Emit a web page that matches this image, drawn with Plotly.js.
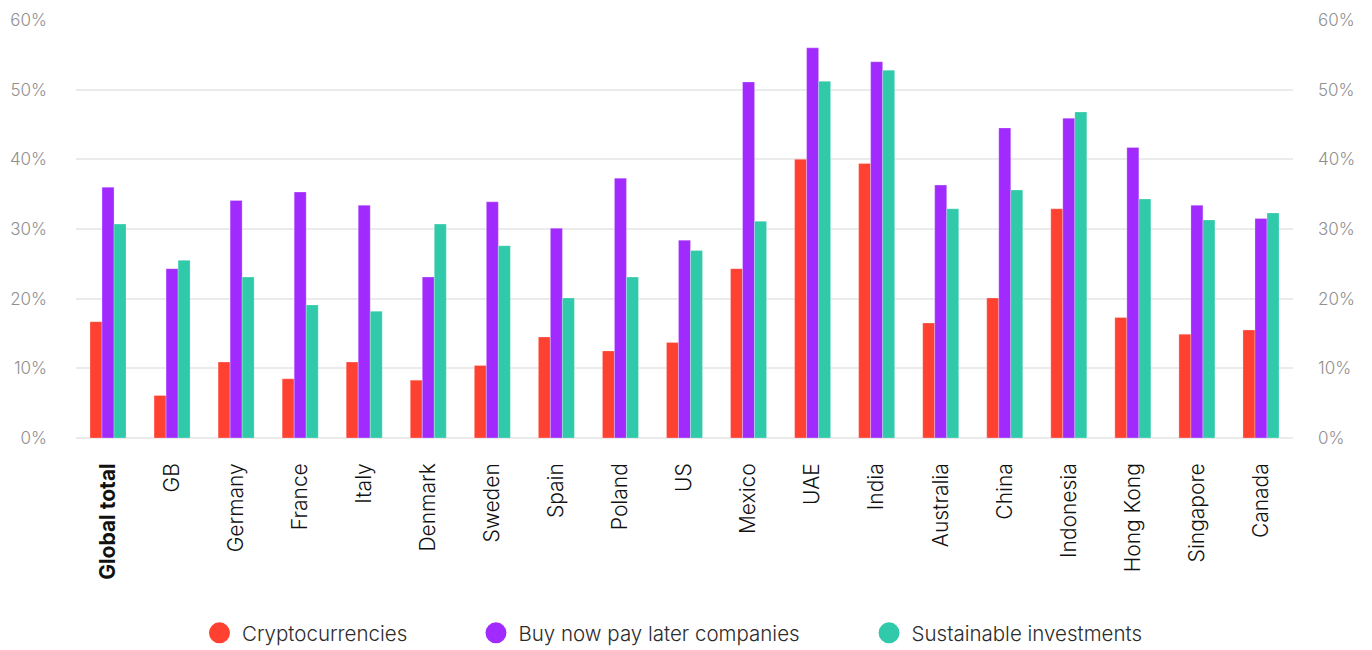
<!DOCTYPE html>
<html>
<head>
<meta charset="utf-8">
<script src="https://cdn.plot.ly/plotly-3.0.1.min.js"></script>
<style>
  html, body { margin: 0; padding: 0; background: #ffffff; }
  #chart { width: 1372px; height: 650px; }
</style>
</head>
<body>
<div id="chart"></div>
<script>
const categories = ["Global total", "GB", "Germany", "France", "Italy", "Denmark", "Sweden", "Spain", "Poland", "US", "Mexico", "UAE", "India", "Australia", "China", "Indonesia", "Hong Kong", "Singapore", "Canada"];
const tickLabels = ["<b>Global total</b>", "GB", "Germany", "France", "Italy", "Denmark", "Sweden", "Spain", "Poland", "US", "Mexico", "UAE", "India", "Australia", "China", "Indonesia", "Hong Kong", "Singapore", "Canada"];
const seriesNames = ["Cryptocurrencies", "Buy now pay later companies", "Sustainable investments"];
const crypto = [16.7, 6.1, 10.9, 8.5, 10.9, 8.3, 10.4, 14.5, 12.5, 13.7, 24.3, 40.0, 39.4, 16.5, 20.1, 32.9, 17.3, 14.9, 15.5];
const bnpl = [36.0, 24.3, 34.1, 35.3, 33.4, 23.1, 33.9, 30.1, 37.3, 28.4, 51.1, 56.0, 54.0, 36.3, 44.5, 45.9, 41.7, 33.4, 31.5];
const sustainable = [30.7, 25.5, 23.1, 19.1, 18.2, 30.7, 27.6, 20.1, 23.1, 26.9, 31.1, 51.2, 52.8, 32.9, 35.6, 46.8, 34.3, 31.3, 32.3];
const yTicks = [0, 10, 20, 30, 40, 50, 60];

const colors = ["#FF4131", "#A12BFF", "#30C9A9"];
const series = [crypto, bnpl, sustainable];
const legendIds = ["legend", "legend2", "legend3"];

const traces = [];
series.forEach((vals, i) => {
  traces.push({
    type: "bar",
    name: seriesNames[i],
    x: categories,
    y: vals,
    marker: { color: colors[i], line: { color: "rgba(255,255,255,0.5)", width: 0.5 } },
    showlegend: false,
    hoverinfo: "x+y+name"
  });
});
// legend-only entries (no data points), placed on the right-hand axis so it is drawn
series.forEach((vals, i) => {
  traces.push({
    type: "scatter",
    mode: "markers",
    name: seriesNames[i],
    x: [null],
    y: [null],
    yaxis: "y2",
    marker: { color: colors[i], size: 16, symbol: "circle", line: { color: colors[i], width: 5 } },
    showlegend: true,
    legend: legendIds[i],
    hoverinfo: "skip"
  });
});

const FONT = "Inter, Roboto, sans-serif";
const legendFont = { family: FONT, size: 20.5, color: "#2b2b2b", weight: 300 };
function mkLegend(x) {
  return {
    orientation: "h", x: x, xanchor: "left", y: -0.4665, yanchor: "middle",
    font: legendFont, bgcolor: "rgba(0,0,0,0)", borderwidth: 0,
    itemsizing: "trace", itemwidth: 35
  };
}

const tickFont = { family: FONT, size: 17, color: "#8f8f8f", weight: 300 };

const layout = {
  width: 1372,
  height: 650,
  margin: { l: 76, r: 79, t: 20, b: 212, autoexpand: false },
  paper_bgcolor: "#ffffff",
  plot_bgcolor: "#ffffff",
  barmode: "group",
  bargap: 0.4375,
  bargroupgap: 0,
  xaxis: {
    type: "category",
    tickmode: "array",
    tickvals: categories,
    ticktext: tickLabels,
    tickangle: -90,
    ticks: "",
    showgrid: false,
    showline: false,
    zeroline: false,
    ticklabelstandoff: 20,
    automargin: false,
    tickfont: { family: FONT, size: 21, color: "#111111", weight: 300 }
  },
  yaxis: {
    range: [0, 60],
    tickmode: "array",
    tickvals: yTicks,
    ticktext: yTicks.map(v => v + "%"),
    showgrid: true,
    gridcolor: "#ebebeb",
    gridwidth: 1.5,
    zeroline: true,
    zerolinecolor: "#ebebeb",
    zerolinewidth: 1.5,
    showline: false,
    ticks: "",
    ticklabelstandoff: 28,
    automargin: false,
    tickfont: tickFont,
    fixedrange: true
  },
  yaxis2: {
    overlaying: "y",
    side: "right",
    range: [0, 60],
    tickmode: "array",
    tickvals: yTicks,
    ticktext: yTicks.map(v => v + "%"),
    showgrid: false,
    zeroline: false,
    showline: false,
    ticks: "",
    ticklabelstandoff: 24,
    automargin: false,
    tickfont: tickFont,
    fixedrange: true
  },
  legend: mkLegend(0.0994),
  legend2: mkLegend(0.3266),
  legend3: mkLegend(0.6496),
  hovermode: "closest"
};

Plotly.newPlot("chart", traces, layout, { displayModeBar: false, responsive: false });
</script>
</body>
</html>
